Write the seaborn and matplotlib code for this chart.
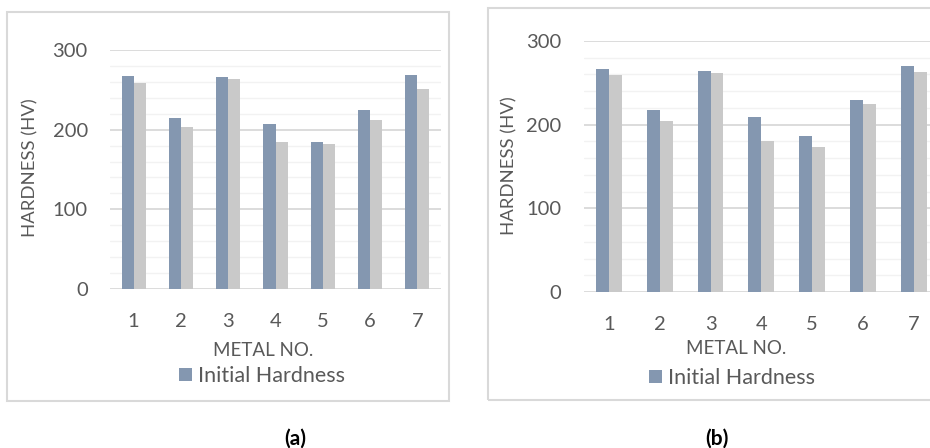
import pandas as pd
import matplotlib
matplotlib.use("Agg")
import matplotlib.pyplot as plt
from matplotlib.patches import Patch, Rectangle
import seaborn as sns

# values
metal_no = ["1", "2", "3", "4", "5", "6", "7"]
initial_a = [267, 215, 266, 207, 184, 225, 269]
final_a = [258, 203, 263, 185, 182, 212, 251]
initial_b = [266, 217, 264, 209, 186, 229, 270]
final_b = [259, 204, 262, 180, 173, 225, 263]
series_names = ["Initial Hardness", "Final Hardness"]
panel_tags = ["(a)", "(b)"]

BLUE = "#8497B0"
GREY = "#C9C9C9"
TEXT = "#595959"

sns.set_theme(style="white")
plt.rcParams["font.family"] = ["Lato", "DejaVu Sans"]

W, H = 930, 448
fig = plt.figure(figsize=(W / 100, H / 100), dpi=100)


def fx(x):
    return x / W


def fy(y):
    return 1 - y / H


def make_df(initial, final):
    return pd.DataFrame({
        "metal": metal_no * 2,
        "hardness": initial + final,
        "series": [series_names[0]] * len(metal_no) + [series_names[1]] * len(metal_no),
    })


# panel layout in pixels: axes box, label positions, legend center, outer frame
panels = [
    dict(df=make_df(initial_a, final_a), ax=(110, 50, 441, 289),
         xlab=(263, 350), ylab=(30, 168), leg=(262, 376), frame=(7, 12, 449, 401),
         tag=(295, 439)),
    dict(df=make_df(initial_b, final_b), ax=(583.6, 41, 939, 292),
         xlab=(736, 349), ylab=(509, 166), leg=(732, 378), frame=(488, 8, 960, 400),
         tag=(717, 439)),
]

for p, tag in zip(panels, panel_tags):
    x0, y0, x1, y1 = p["ax"]
    ax = fig.add_axes([fx(x0), fy(y1), fx(x1 - x0), (y1 - y0) / H])
    sns.barplot(data=p["df"], x="metal", y="hardness", hue="series",
                order=metal_no, hue_order=series_names,
                palette=[BLUE, GREY], width=0.51, saturation=1,
                legend=False, ax=ax, linewidth=0)
    ax.set_ylim(0, 300)
    ax.set_xlim(-0.5, 6.5)
    ax.set_yticks([0, 100, 200, 300])
    ax.set_yticks(range(0, 301, 20), minor=True)
    ax.grid(axis="y", which="major", color="#D9D9D9", linewidth=1.3)
    ax.grid(axis="y", which="minor", color="#F2F2F2", linewidth=1.0)
    ax.set_axisbelow(True)
    for s in ax.spines.values():
        s.set_visible(False)
    ax.tick_params(axis="y", which="both", length=0, pad=16, labelsize=14.5, labelcolor=TEXT)
    ax.tick_params(axis="x", length=0, pad=17, labelsize=14.5, labelcolor=TEXT)

    ax.set_xlabel("METAL NO.", fontsize=13.5, color=TEXT, va="center")
    ax.xaxis.set_label_coords(fx(p["xlab"][0]), fy(p["xlab"][1]), transform=fig.transFigure)
    ax.set_ylabel("HARDNESS (HV)", fontsize=13.3, color=TEXT, va="center")
    ax.yaxis.set_label_coords(fx(p["ylab"][0]), fy(p["ylab"][1]), transform=fig.transFigure)

    fig.legend(handles=[Patch(facecolor=BLUE, edgecolor="none", label=series_names[0])],
               loc="center", bbox_to_anchor=(fx(p["leg"][0]), fy(p["leg"][1])),
               frameon=False, fontsize=15.5, labelcolor=TEXT,
               handlelength=0.6, handleheight=0.6, handletextpad=0.3,
               borderpad=0, borderaxespad=0)

    fr = p["frame"]
    fig.patches.append(Rectangle((fx(fr[0]), fy(fr[3])), fx(fr[2] - fr[0]), (fr[3] - fr[1]) / H,
                                 transform=fig.transFigure, fill=False,
                                 edgecolor="#D9D9D9", linewidth=1.5, zorder=0))

    fig.text(fx(p["tag"][0]), fy(p["tag"][1]), tag, ha="center", va="center",
             fontsize=15, fontweight="bold", color="black")

fig.savefig("out.png", dpi=100)
